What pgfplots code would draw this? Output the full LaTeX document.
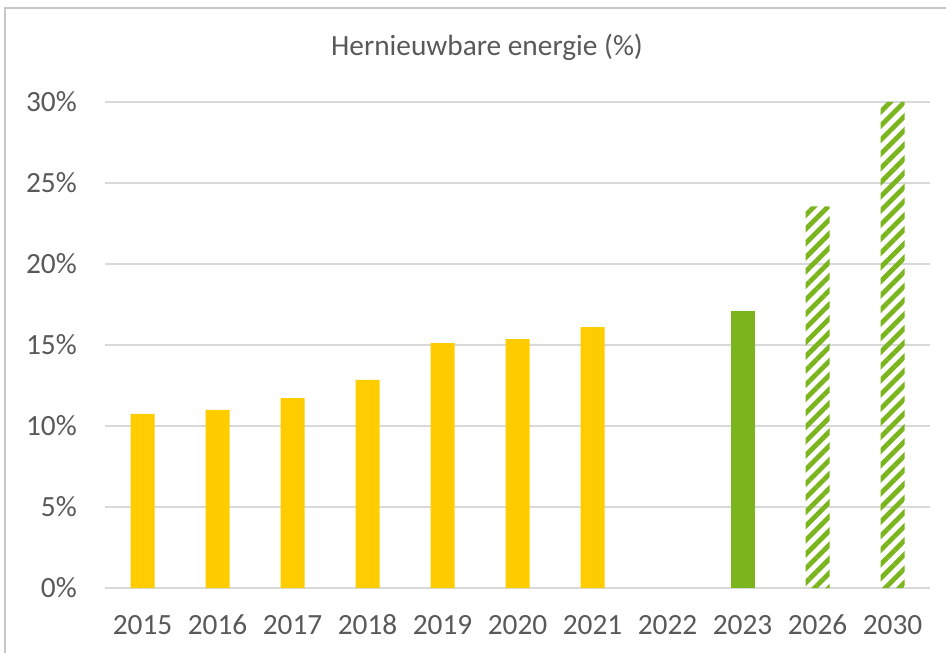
\documentclass[border=0pt]{standalone}
\usepackage{fontspec}
\setmainfont{Carlito}
\usepackage{pgfplots}
\pgfplotsset{compat=1.18}
\usetikzlibrary{patterns.meta}
\definecolor{txt}{HTML}{595959}
\definecolor{gridc}{HTML}{D9D9D9}
\definecolor{ylw}{HTML}{FFCC00}
\definecolor{grn}{HTML}{7AB51E}
\begin{document}
\begin{tikzpicture}[x=0.75pt,y=0.75pt]
\path[use as bounding box] (0,0) rectangle (946,653);
\draw[color=gridc!80!gray, line width=1pt] (5,0) -- (5,645) -- (946,645);
\node[text=txt, font=\fontsize{22}{26}\selectfont] at (487,606) {Hernieuwbare energie (\%)};
\begin{axis}[
  at={(78.75pt,48.75pt)}, anchor=south west,
  scale only axis,
  width=618.75pt, height=364.5pt,
  xmin=-0.5, xmax=10.5,
  ymin=0, ymax=30,
  ytick={0,5,10,15,20,25,30},
  yticklabel={\pgfmathprintnumber{\tick}\%},
  xtick={0,...,10},
  xticklabels={2015,2016,2017,2018,2019,2020,2021,2022,2023,2026,2030},
  /pgf/number format/assume math mode=true,
  axis x line*=bottom,
  axis y line*=left,
  y axis line style={draw=none},
  ymajorgrids,
  grid style={gridc, line width=1pt},
  x axis line style={gridc, line width=1pt},
  major tick length=0pt,
  tick label style={text=txt, font=\fontsize{22}{26}\selectfont, inner sep=0pt},
  yticklabel style={anchor=east, xshift=-21pt},
  xticklabel style={anchor=base, yshift=-35pt},
  ybar, bar width=18pt, bar shift=0pt,
  clip=false,
]
\addplot[fill=ylw, draw=none] coordinates {(0,10.75) (1,11.0) (2,11.72) (3,12.84) (4,15.12) (5,15.37) (6,16.1)};
\addplot[fill=grn, draw=none] coordinates {(8,17.1)};
\addplot[draw=none, pattern={Lines[angle=45, distance=7.5pt, line width=3.6pt]}, pattern color=grn] coordinates {(9,23.55) (10,30)};
\end{axis}
\end{tikzpicture}
\end{document}
